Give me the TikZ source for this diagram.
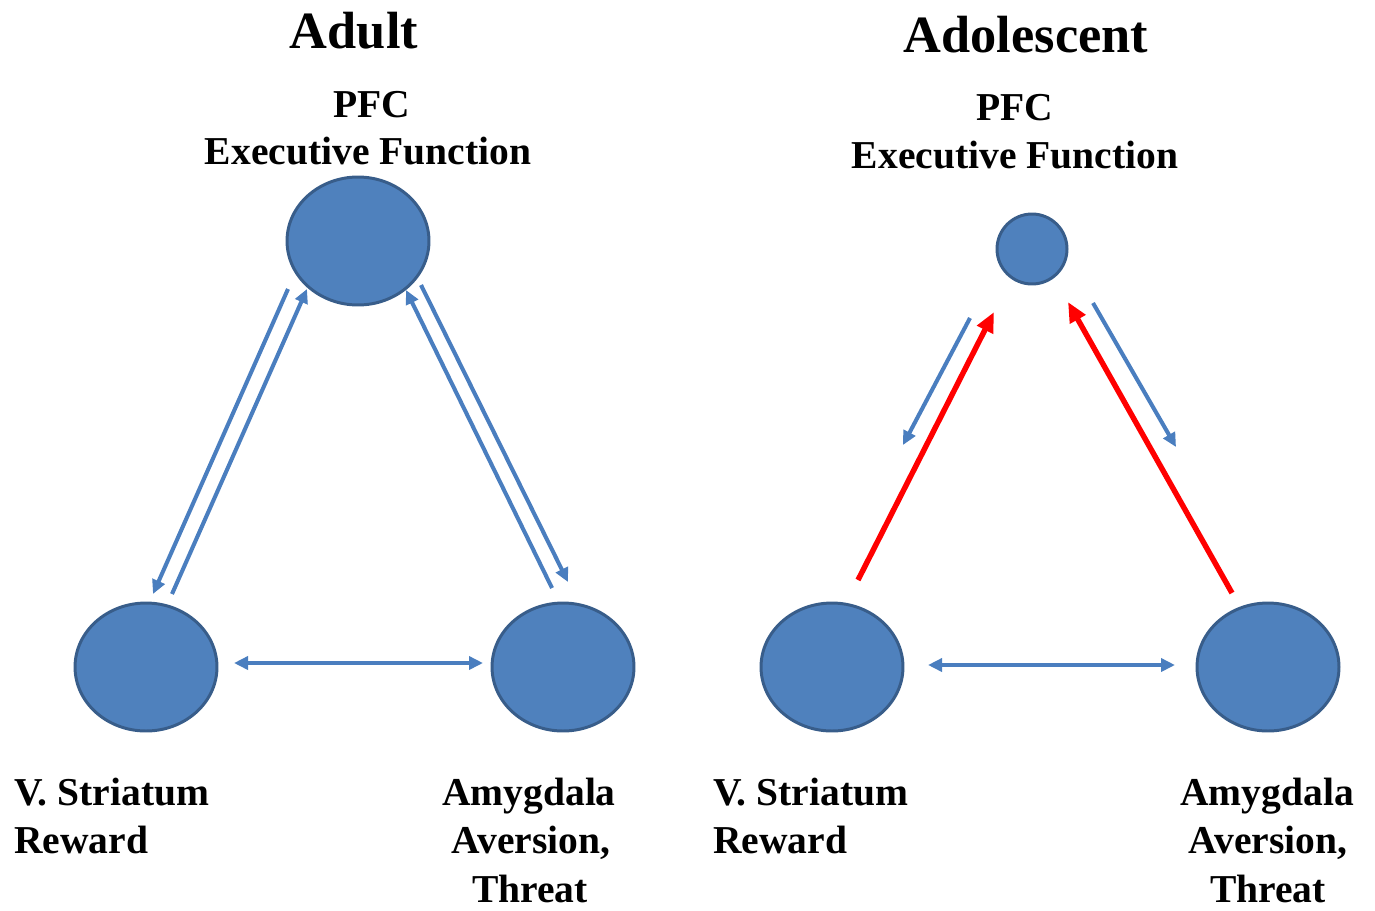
\documentclass[tikz,border=0pt]{standalone}
\usepackage{fontspec}
\setmainfont{Liberation Serif}
\usetikzlibrary{arrows.meta,shapes.geometric}
\definecolor{regionfill}{HTML}{4F81BD}
\definecolor{regionline}{HTML}{385D8A}
\definecolor{linkblue}{HTML}{4A7EBF}
\definecolor{linkred}{HTML}{FF0000}
\tikzset{
  region/.style={ellipse, draw=regionline, fill=regionfill, line width=1.7pt,
    minimum width=2.84cm, minimum height=2.56cm, inner sep=0pt},
  smallregion/.style={region, minimum width=1.4cm, minimum height=1.4cm},
  title/.style={anchor=base, inner sep=0pt, font=\fontsize{29.8}{34}\selectfont\bfseries},
  label/.style={anchor=base, inner sep=0pt, font=\fontsize{22.5}{26}\selectfont\bfseries},
  leftlabel/.style={label, anchor=base west},
  bluelink/.style={draw=linkblue, line width=2.3pt,
    -{Triangle[length=0.28cm,width=0.26cm]}},
  bluebi/.style={draw=linkblue, line width=2.3pt,
    {Triangle[length=0.28cm,width=0.26cm]}-{Triangle[length=0.28cm,width=0.26cm]}},
  redlink/.style={draw=linkred, line width=3.1pt,
    -{Triangle[length=0.4cm,width=0.34cm]}},
}
\begin{document}
\begin{tikzpicture}[x=0.02cm, y=-0.02cm]
\useasboundingbox (0,0) rectangle (1375,910);
\clip (0,0) rectangle (1375,910);

% ---------- Adult ----------
\node[title] (adulttitle) at (354,48) {Adult};
\node[label] (apfc) at (372,117) {PFC};
\node[label] (aexec) at (368,164) {Executive Function};

\node[region] (aPFC) at (358,241) {};
\node[region] (aVS) at (146,667) {};
\node[region] (aAM) at (563,667) {};

\coordinate (a1s) at (288,289);  \coordinate (a1e) at (153,594);
\coordinate (a2s) at (172,594);  \coordinate (a2e) at (307,289);
\coordinate (a3s) at (421,285);  \coordinate (a3e) at (568,582);
\coordinate (a4s) at (552,588);  \coordinate (a4e) at (406,290);
\coordinate (a5s) at (234,663);  \coordinate (a5e) at (483,663);
\draw[bluelink] (a1s) -- (a1e);
\draw[bluelink] (a2s) -- (a2e);
\draw[bluelink] (a3s) -- (a3e);
\draw[bluelink] (a4s) -- (a4e);
\draw[bluebi] (a5s) -- (a5e);

\node[leftlabel] (avs1) at (14,805) {V. Striatum};
\node[leftlabel] (avs2) at (14,853) {Reward};
\node[label] (aam1) at (529,805) {Amygdala};
\node[label] (aam2) at (531,853) {Aversion,};
\node[label] (aam3) at (530,902) {Threat};

% ---------- Adolescent ----------
\node[title] (teentitle) at (1026,52) {Adolescent};
\node[label] (tpfc) at (1015,120) {PFC};
\node[label] (texec) at (1015,168) {Executive Function};

\node[smallregion] (tPFC) at (1032,249) {};
\node[region] (tVS) at (832,667) {};
\node[region] (tAM) at (1268,667) {};

\coordinate (t1s) at (970,318);  \coordinate (t1e) at (903,445);
\coordinate (t2s) at (858,580);  \coordinate (t2e) at (994,312);
\coordinate (t3s) at (1232,593); \coordinate (t3e) at (1068,302);
\coordinate (t4s) at (1093,303); \coordinate (t4e) at (1176,447);
\coordinate (t5s) at (928,665);  \coordinate (t5e) at (1175,665);
\draw[bluelink] (t1s) -- (t1e);
\draw[redlink] (t2s) -- (t2e);
\draw[redlink] (t3s) -- (t3e);
\draw[bluelink] (t4s) -- (t4e);
\draw[bluebi] (t5s) -- (t5e);

\node[leftlabel] (tvs1) at (713,805) {V. Striatum};
\node[leftlabel] (tvs2) at (713,853) {Reward};
\node[label] (tam1) at (1267,805) {Amygdala};
\node[label] (tam2) at (1268,853) {Aversion,};
\node[label] (tam3) at (1268,902) {Threat};
\end{tikzpicture}
\end{document}
